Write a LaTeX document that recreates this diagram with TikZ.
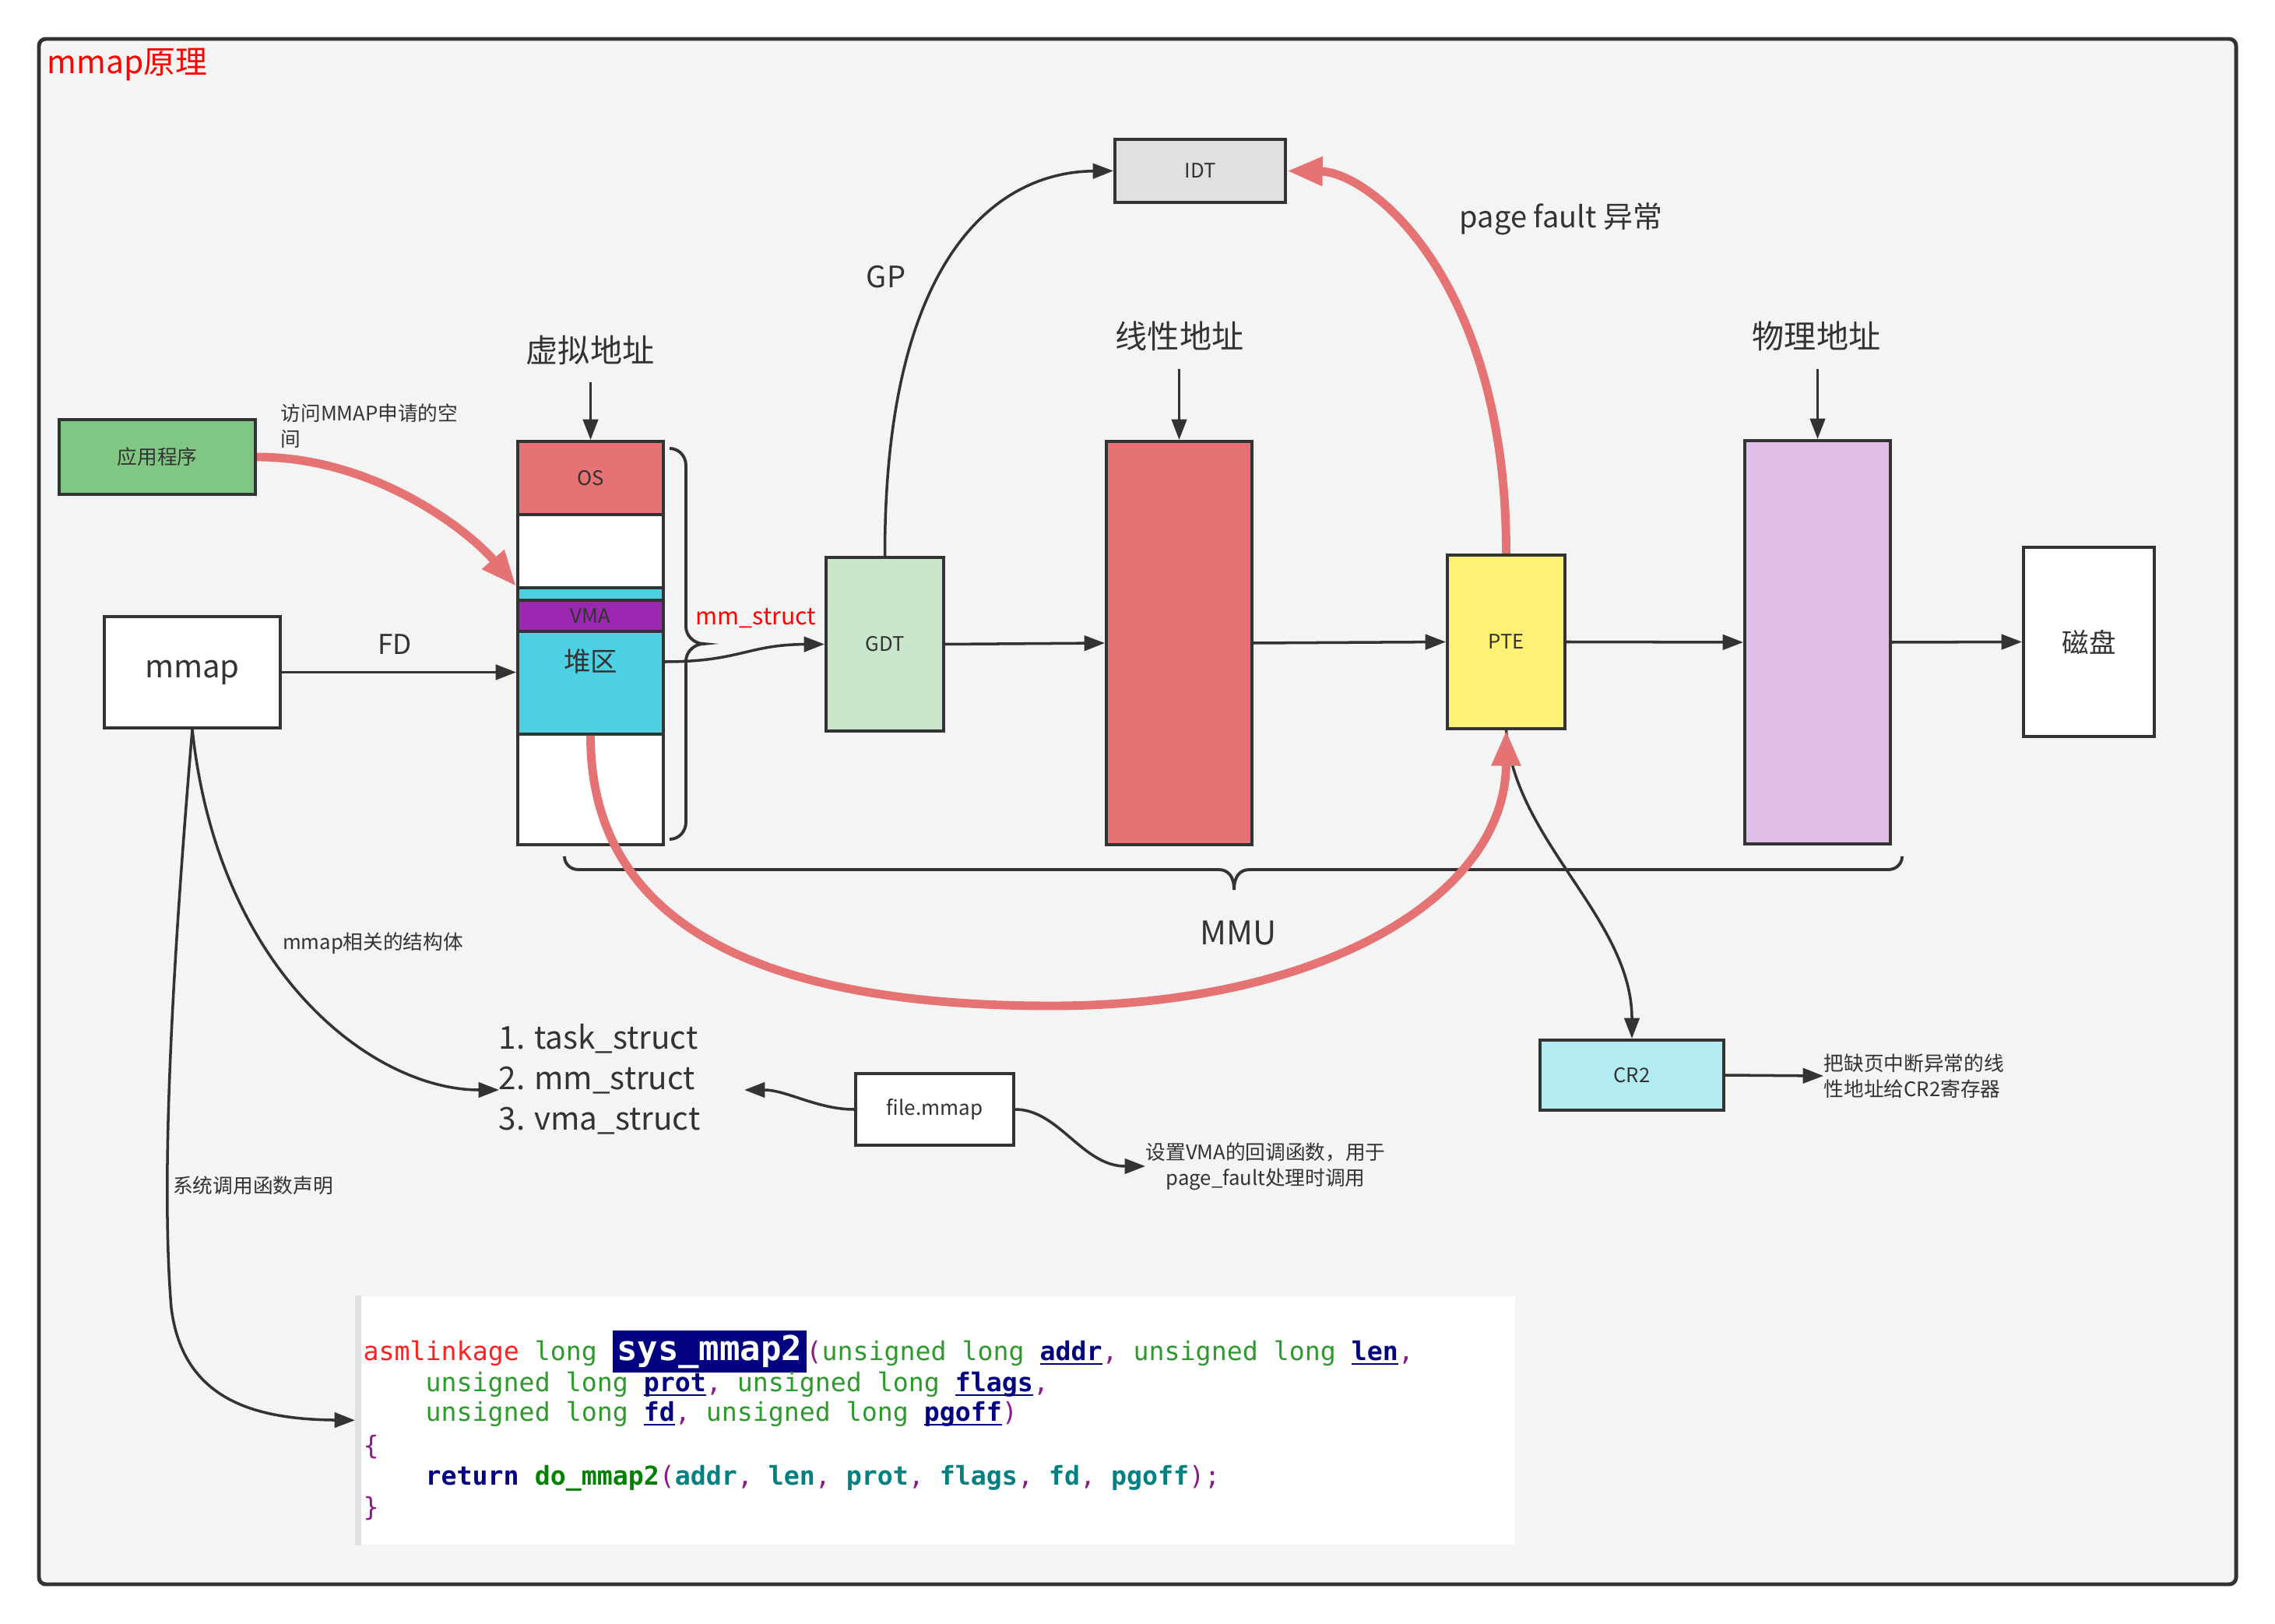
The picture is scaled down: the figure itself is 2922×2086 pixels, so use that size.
\documentclass[tikz,border=0pt]{standalone}
\usepackage{fontspec}
\setmainfont{Noto Sans CJK SC}
\newfontfamily\codefont{DejaVu Sans Mono}
\usetikzlibrary{arrows.meta}
\definecolor{dk}{HTML}{333333}
\definecolor{bgc}{HTML}{F4F4F4}
\definecolor{redfill}{HTML}{E57373}
\definecolor{greenfill}{HTML}{81C784}
\definecolor{cyanfill}{HTML}{4DD0E1}
\definecolor{vmafill}{HTML}{9C27B0}
\definecolor{gdtfill}{HTML}{C8E6C9}
\definecolor{idtfill}{HTML}{E0E0E0}
\definecolor{ptefill}{HTML}{FFF176}
\definecolor{physfill}{HTML}{E1BEE7}
\definecolor{cr2fill}{HTML}{B2EBF2}
\definecolor{pured}{HTML}{FF0000}
\definecolor{cred}{HTML}{FF2020}
\definecolor{cgreen}{HTML}{2E9A2E}
\definecolor{cnavy}{HTML}{000080}
\definecolor{cpurple}{HTML}{8B1A8B}
\definecolor{cteal}{HTML}{008080}
\definecolor{cdgreen}{HTML}{008000}
\newcommand\fsmall{\fontsize{7.3pt}{9.4pt}\selectfont}
\newcommand\fmid{\fontsize{9.8pt}{12pt}\selectfont}
\newcommand\fbig{\fontsize{11.7pt}{14pt}\selectfont}
\newcommand\prm[1]{\textcolor{cnavy}{\bfseries\underline{\smash{#1}}}}
\newcommand\pu[1]{\textcolor{cpurple}{#1}}
\newcommand\gr[1]{\textcolor{cgreen}{#1}}
\newcommand\te[1]{\textcolor{cteal}{\bfseries #1}}
\begin{document}
\begin{tikzpicture}[x=0.01cm,y=-0.01cm,
  box/.style={draw=dk, line width=1.1pt, inner sep=0pt, text=dk, font=\fsmall},
  arr/.style={draw=dk, line width=1pt, -{Triangle[length=7.5pt,width=5.5pt]}},
  redarr/.style={draw=redfill, line width=3.1pt, -{Triangle[length=13pt,width=10pt]}},
  lbl/.style={text=dk, inner sep=0pt, font=\fsmall},
  bracestyle/.style={draw=dk, line width=1.1pt},
  codetxt/.style={inner sep=0pt, anchor=base west, font=\codefont\fontsize{9.45pt}{11.4pt}\selectfont}]
\useasboundingbox (0,0) rectangle (2922,2086);
\fill[white] (0,0) rectangle (2922,2086);
\draw[line width=1.4pt, draw=dk, fill=bgc, rounded corners=2.5pt] (50,50) rectangle (2872,2035);

% title
\node[lbl, text=pured, anchor=west, font=\fontsize{11.6pt}{14pt}\selectfont] (title) at (60,83) {mmap原理};

% app
\node[box, fill=greenfill, minimum width=2.52cm, minimum height=0.96cm] (app) at (202,587) {应用程序};
\node[lbl, anchor=west, align=left] (applbl) at (360,547) {访问MMAP申请的空\\间};

% virtual address column
\node[lbl, font=\fbig] (vlbl) at (758,450) {虚拟地址};
\coordinate (vtop) at (758.5,491);
\node[box, fill=redfill, minimum width=1.87cm, minimum height=0.94cm] (os) at (758.5,614) {OS};
\node[box, fill=white, minimum width=1.87cm, minimum height=0.94cm] (w1) at (758.5,708) {};
\node[box, fill=cyanfill, minimum width=1.87cm, minimum height=0.16cm] (strip) at (758.5,763) {};
\node[box, fill=vmafill, minimum width=1.87cm, minimum height=0.40cm] (vma) at (758.5,791) {VMA};
\node[box, fill=cyanfill, minimum width=1.87cm, minimum height=1.32cm] (heap) at (758.5,877) {};
\node[lbl, font=\fmid] (heaptxt) at (758.5,850) {堆区};
\node[box, fill=white, minimum width=1.87cm, minimum height=1.42cm] (w2) at (758.5,1014) {};

\draw[bracestyle] (860,576) .. controls (872,576) and (881,586) .. (881,598) -- (881,805) .. controls (881,817) and (892,827) .. (904,827) .. controls (892,827) and (881,837) .. (881,849) -- (881,1056) .. controls (881,1068) and (872,1078) .. (860,1078);

\node[lbl, text=pured, font=\fontsize{8.6pt}{11pt}\selectfont] (mmlbl) at (971,794) {mm\_struct};

% mmap box
\node[box, fill=white, minimum width=2.26cm, minimum height=1.43cm, font=\fontsize{11.4pt}{13pt}\selectfont] (mmap) at (247,863.5) {\raisebox{-1.2pt}{mmap}};
\node[lbl, font=\fontsize{10pt}{12pt}\selectfont] (fd) at (507,828) {FD};

% GDT, IDT
\node[box, fill=gdtfill, minimum width=1.51cm, minimum height=2.23cm] (gdt) at (1136.5,827.5) {GDT};
\node[box, fill=idtfill, minimum width=2.19cm, minimum height=0.81cm] (idt) at (1541.5,219.5) {IDT};
\node[lbl, font=\fontsize{10.8pt}{13pt}\selectfont] (gp) at (1138,356) {GP};
\node[lbl, font=\fontsize{10.8pt}{13pt}\selectfont] (pf) at (2005,281) {page fault 异常};

% linear
\node[lbl, font=\fbig] (llbl) at (1515,432) {线性地址};
\coordinate (ltop) at (1514.5,474);
\node[box, fill=redfill, minimum width=1.87cm, minimum height=5.18cm] (lin) at (1514.5,826) {};

% PTE
\node[box, fill=ptefill, minimum width=1.51cm, minimum height=2.23cm] (pte) at (1934.5,824.5) {PTE};

% physical
\node[lbl, font=\fbig] (plbl) at (2333,432) {物理地址};
\coordinate (ptop) at (2334.5,474);
\node[box, fill=physfill, minimum width=1.87cm, minimum height=5.18cm] (phys) at (2334.5,825) {};
\node[box, fill=white, minimum width=1.68cm, minimum height=2.43cm, font=\fmid] (disk) at (2683,824.5) {磁盘};

% MMU brace
\draw[bracestyle] (725,1100) .. controls (725,1110) and (733,1117) .. (743,1117) -- (1565,1117) .. controls (1577,1117) and (1585,1125) .. (1585,1143) .. controls (1585,1125) and (1593,1117) .. (1605,1117) -- (2425,1117) .. controls (2435,1117) and (2443,1110) .. (2443,1100);
\node[lbl, font=\fontsize{11.9pt}{14pt}\selectfont] (mmu) at (1591,1198) {MMU};

% CR2
\node[box, fill=cr2fill, minimum width=2.36cm, minimum height=0.90cm] (cr2) at (2096,1381) {CR2};
\node[lbl, anchor=west, align=left] (cr2lbl) at (2342,1382) {把缺页中断异常的线\\性地址给CR2寄存器};

% file.mmap
\node[box, fill=white, minimum width=2.03cm, minimum height=0.92cm, font=\fontsize{7.4pt}{9pt}\selectfont] (file) at (1200.5,1425) {file.mmap};
\node[lbl, anchor=west, align=center] (fmlbl) at (1471,1498) {设置VMA的回调函数，用于\\page\_fault处理时调用};

% structs list
\node[lbl, anchor=west, align=left, font=\fontsize{11.5pt}{14.8pt}\selectfont] (structs) at (640,1386) {1. task\_struct\\2. mm\_struct\\3. vma\_struct};
\coordinate (sttip) at (641,1400);
\coordinate (fmtip) at (956,1400);
\node[lbl] (rel) at (479,1212) {mmap相关的结构体};
\node[lbl] (sys) at (325,1523) {系统调用函数声明};

% code box
\node[fill=white, minimum width=14.88cm, minimum height=3.19cm, inner sep=0pt, anchor=north west] (code) at (456,1664) {};
\fill[idtfill] (code.north west) rectangle ([xshift=0.08cm]code.south west);
\node[codetxt] (c1) at (466,1747) {\textcolor{cred}{asmlinkage} \gr{long} {\setlength\fboxsep{1.5pt}\colorbox{cnavy}{\textcolor{white}{\bfseries\fontsize{12.5pt}{14pt}\selectfont sys\_mmap2}}}\pu{(}\gr{unsigned long} \prm{addr}\pu{,} \gr{unsigned long} \prm{len}\pu{,}};
\node[codetxt] (c2) at (546,1787) {\gr{unsigned long} \prm{prot}\pu{,} \gr{unsigned long} \prm{flags}\pu{,}};
\node[codetxt] (c3) at (546,1825) {\gr{unsigned long} \prm{fd}\pu{,} \gr{unsigned long} \prm{pgoff}\pu{)}};
\node[codetxt] (c4) at (466,1868) {\pu{\{}};
\node[codetxt] (c5) at (546,1907) {\textcolor{cnavy}{\bfseries return} \textcolor{cdgreen}{\bfseries do\_mmap2}\pu{(}\te{addr}\pu{,} \te{len}\pu{,} \te{prot}\pu{,} \te{flags}\pu{,} \te{fd}\pu{,} \te{pgoff}\pu{);}};
\node[codetxt] (c6) at (466,1947) {\pu{\}}};

% connectors
\draw[arr] (vtop) -- (os.north);
\draw[arr] (mmap.east) -- (mmap.east -| heap.west);
\draw[arr] (heaptxt -| heap.east) .. controls (950,850) and (960,828) .. (gdt.west);
\draw[arr] (gdt.north) .. controls (1136,330) and (1280,221) .. (idt.west);
\draw[arr] (gdt.east) -- (lin.west);
\draw[arr] (ltop) -- (lin.north);
\draw[arr] (lin.east) -- (pte.west);
\draw[arr] (ptop) -- (phys.north);
\draw[arr] (pte.east) -- (phys.west);
\draw[arr] (phys.east) -- (disk.west);
\draw[arr] (pte.south) .. controls (1945,1080) and (2096,1180) .. (cr2.north);
\draw[arr] (cr2.east) -- (cr2lbl.west);
\draw[arr] (file.west) .. controls (1050,1425) and (1010,1400) .. (fmtip);
\draw[arr] (file.east) .. controls (1360,1425) and (1390,1498) .. (fmlbl.west);
\draw[arr] (mmap.south) .. controls (280,1250) and (480,1400) .. (sttip);
\draw[arr] (mmap.south) .. controls (225,1200) and (205,1500) .. (220,1680) .. controls (235,1800) and (330,1823) .. (code.west);

\draw[redarr] (app.east) .. controls (480,587) and (600,680) .. (strip.north west);
\draw[redarr] (pte.north) .. controls (1935,360) and (1760,221) .. (idt.east);
\draw[redarr] (heap.south) .. controls (758,1200) and (1000,1292) .. (1350,1292) .. controls (1700,1292) and (1934,1150) .. (pte.south);
\end{tikzpicture}
\end{document}
